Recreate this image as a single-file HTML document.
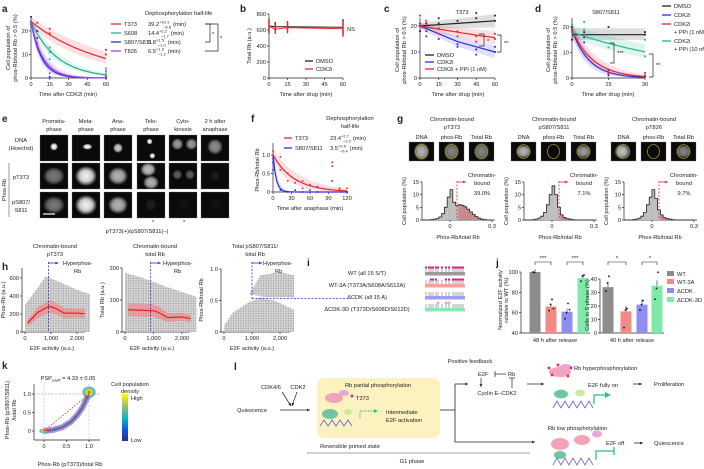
<!DOCTYPE html>
<html><head><meta charset="utf-8">
<style>
html,body{margin:0;padding:0;background:#fff;}
svg{display:block;font-family:"Liberation Sans",Arial,sans-serif;}
</style></head>
<body>
<svg id="fig" width="704" height="469" viewBox="0 0 704 469" xmlns="http://www.w3.org/2000/svg">
<defs>
<radialGradient id="blob"><stop offset="0" stop-color="#fff"/><stop offset="0.55" stop-color="#d8d8d8"/><stop offset="1" stop-color="#fff" stop-opacity="0"/></radialGradient>
<radialGradient id="hot"><stop offset="0" stop-color="#d81b1b"/><stop offset="0.35" stop-color="#f7e21a"/><stop offset="0.7" stop-color="#3ec6b0"/><stop offset="1" stop-color="#3040d0" stop-opacity="0.2"/></radialGradient>
<pattern id="dots" width="2.5" height="2.5" patternUnits="userSpaceOnUse"><rect width="2.5" height="2.5" fill="#d2d2d2"/><circle cx="1" cy="1" r="0.7" fill="#959595"/></pattern>
<linearGradient id="parula" x1="0" y1="1" x2="0" y2="0"><stop offset="0" stop-color="#352a87"/><stop offset="0.25" stop-color="#0f5cdd"/><stop offset="0.5" stop-color="#12b9b6"/><stop offset="0.75" stop-color="#a5be6a"/><stop offset="1" stop-color="#f9fb0e"/></linearGradient>
</defs>
</svg>
<script>
const NS='http://www.w3.org/2000/svg';
const svg=document.getElementById('fig');

// ---------- data ----------
const aTimes=[0,5,15,60];
const aNames=['T373','S608','S807/S811','T826'];
const aHalf=[39.2,14.4,5.8,6.5];
const aHalfUp=[10.1,2.2,1.5,1.9];
const aHalfDn=[6.6,1.7,1.0,1.2];
const aStart=[24,24,24,24];
const aPtsT373=[[0,24],[0,26],[5,23.5],[15,21],[15,19],[60,12],[60,10]];
const aPtsS608=[[0,22],[5,20],[15,13],[15,11],[15,8],[60,3],[60,2]];
const aPtsS807=[[0,26],[5,20],[5,17],[15,0.5],[15,0],[60,0.3],[60,0]];
const aPtsT826=[[0,23],[5,15],[5,14],[15,2],[15,0],[60,4],[60,1]];
const bTimes=[0,5,15,60];
const bDMSO=[650,640,640,635];
const bCDK2i=[650,610,630,615];
const bErr=[90,60,70,100];
const cTimes=[0,5,15,30,45,60];
const cFitDMSO=[20,20.2,20.5,21,21.5,22];
const cFitCDK=[20,19,17,14,12,10];
const cFitPPi=[20,19.6,18.8,17.6,16.5,15.5];
const cPtsDMSO=[[0,21],[0,18],[5,21],[15,23],[15,21],[30,22],[45,25],[45,23],[60,24],[60,22]];
const cPtsCDK=[[0,20],[5,18],[5,16],[15,19],[15,15],[30,13],[30,12],[45,11],[45,9],[60,12],[60,10]];
const cPtsPPi=[[0,24],[0,21],[5,22],[15,19],[15,17],[30,18],[30,16],[45,16],[45,14],[60,17],[60,15]];
const dStart=[17,19,19,18];
const dHalf=[1e9,4.9,6,37];
const dPtsDMSO=[[0,15],[0,19],[5,18],[5,16],[15,20],[15,17],[30,18],[30,17]];
const dPtsCDK=[[0,20],[5,16],[5,14],[15,3],[15,1],[30,1],[30,0.5]];
const dPtsPPi1=[[0,18],[5,17],[15,2],[15,1.5],[30,2],[30,1]];
const dPtsPPi10=[[0,21],[5,22],[5,19],[15,17],[15,12],[30,15],[30,8.5]];
const fStart=[1.0,1.0];
const fHalf=[23.4,3.5];
const fPtsT373=[[0,1.1],[0,0.9],[12,0.95],[12,0.6],[24,0.5],[24,0.3],[36,0.25],[48,0.3],[48,0.1],[60,0.2],[72,0.15],[96,0.8],[96,0.7],[108,0.1],[120,0.1],[120,0]];
const fPtsS807=[[0,0.8],[0,0.6],[12,0.05],[24,0],[36,0.05],[48,0],[60,0.05],[72,0],[96,0.3],[108,0.05],[120,0]];
const gBins=[-0.2,-0.18,-0.16,-0.14,-0.12,-0.1,-0.08,-0.06,-0.04,-0.02,0,0.02,0.04,0.06,0.08,0.1,0.12,0.14,0.16,0.18,0.2,0.22,0.24,0.26,0.28];
const gHistT373=[0,0,0,0.1,0.3,0.6,1.2,2.5,5,9,12,7,5.8,6,5.8,5.2,4.3,3.2,2.2,1.3,0.7,0.3,0.1,0,0];
const gHistS807=[0,0,0,0.1,0.3,0.8,1.5,3,6,10,13.5,10,5,2,1,0.5,0.3,0.1,0,0,0,0,0,0,0];
const gHistT826=[0,0,0,0.1,0.3,0.7,1.5,3,6,9,12,8.5,4,2,1,0.6,0.3,0.1,0,0,0,0,0,0,0];
const gPercent=['39.0%','7.1%','9.7%'];
const hE2F=[100,500,900,1000,1200,1500,2000,2300];
const hPhos=[100,220,280,280,260,210,210,205];
const hPhosSd=[40,60,70,70,65,55,50,50];
const hTotal=[70,68,67,67,60,45,47,42];
const hTotalSd=[20,20,20,20,18,14,12,12];
const jCats=['WT','WT-3A','ΔCDK','ΔCDK-3D'];
const jE2F=[100,66,61,94];
const jE2FPts=[[100,99.5],[62,68,73,64],[54,60,69,63],[91,96,97]];
const jSphase=[34,16,21,35];
const jSPts=[[31,37,42],[4,17,18],[17,21,24],[25,33,45]];
const kX=[0,0.2,0.4,0.6,0.75,0.85,0.95,1.0];
const kY=[0,0.03,0.1,0.25,0.45,0.63,0.88,1.0];

const RED='#e8262d',TEAL='#20b58e',BLUE='#2d2de0',PURP='#a040f0',GREEN='#28c47a',BLK='#222';
const JCOL=['#8c8c8c','#f28b86','#8e8ef2','#80e8a9'];
const FS=5.7;

// ---------- helpers ----------
function el(tag,a,name){
  const e=document.createElementNS(NS,tag);
  for(const k in a) e.setAttribute(k,a[k]);
  
  
  svg.appendChild(e); return e;
}
function tx(x,y,s,name,o){o=o||{};
  const a={x:x,y:y,'font-size':o.fs||FS,'text-anchor':o.a||'start',fill:o.c||'#222'};
  if(o.b) a['font-weight']='bold';
  if(o.rot) a.transform='rotate(-90 '+x+' '+y+')';
  const e=el('text',a,name); e.textContent=s; return e;}
function ln(x1,y1,x2,y2,name,c,w,dash){const a={x1,y1,x2,y2,stroke:c||BLK,'stroke-width':w||0.7};if(dash)a['stroke-dasharray']=dash;return el('line',a,name);}
function pl(pts,name,c,w,dash){const a={points:pts.map(p=>p[0].toFixed(1)+','+p[1].toFixed(1)).join(' '),fill:'none',stroke:c,'stroke-width':w||1};if(dash)a['stroke-dasharray']=dash;return el('polyline',a,name);}
function pg(pts,name,f,op){return el('polygon',{points:pts.map(p=>p[0].toFixed(1)+','+p[1].toFixed(1)).join(' '),fill:f,'fill-opacity':op===undefined?1:op},name);}
function dot(x,y,name,c,r){return el('rect',{x:x-(r||1),y:y-(r||1),width:2*(r||1),height:2*(r||1),fill:c},name);}
function arrow(x1,y1,x2,y2,name,c,w){ln(x1,y1,x2,y2,name,c,w||0.8);const ang=Math.atan2(y2-y1,x2-x1),s=3.2;
  pg([[x2,y2],[x2-s*Math.cos(ang-0.45),y2-s*Math.sin(ang-0.45)],[x2-s*Math.cos(ang+0.45),y2-s*Math.sin(ang+0.45)]],name+'-head',c);}
function axes(o){
  const sx=v=>o.x0+(v-o.xd[0])/(o.xd[1]-o.xd[0])*(o.x1-o.x0);
  const sy=v=>o.y0-(v-o.yd[0])/(o.yd[1]-o.yd[0])*(o.y0-o.y1);
  const left=o.left!==undefined?o.left:o.x0, bot=o.bot!==undefined?o.bot:o.y0;
  const top=o.top!==undefined?o.top:o.y1, right=o.right!==undefined?o.right:o.x1;
  ln(left,bot,left,top,o.n+'-y-axis');
  ln(left,bot,right,bot,o.n+'-x-axis');
  o.xt.forEach((v,i)=>{const x=sx(v);ln(x,bot,x,bot+2,o.n+'-x-tick');tx(x,bot+8,o.xl?o.xl[i]:String(v),o.n+'-x-tick-label',{a:'middle'});});
  o.yt.forEach((v,i)=>{const y=sy(v);ln(left,y,left-2,y,o.n+'-y-tick');tx(left-3,y+2,o.yl?o.yl[i]:String(v),o.n+'-y-tick-label',{a:'end'});});
  return {sx,sy};
}
function expCurve(A,h,t0,t1,sx,sy){const p=[];for(let i=0;i<=40;i++){const t=t0+(t1-t0)*i/40;p.push([sx(t),sy(A*Math.pow(2,-t/h))]);}return p;}
function label(x,y,s){tx(x,y,s,'panel-label-'+s,{fs:10,b:true});}
function halfText(x,y,v,up,dn,name){
  const e=el('text',{x:x,y:y,'font-size':FS,fill:'#222'},name);
  const t1=document.createElementNS(NS,'tspan');t1.textContent=v;e.appendChild(t1);
  const t2=document.createElementNS(NS,'tspan');t2.setAttribute('dy','-2.3');t2.setAttribute('font-size','4');t2.textContent=up;e.appendChild(t2);
  const t3=document.createElementNS(NS,'tspan');t3.setAttribute('dy','4.6');t3.setAttribute('dx','-6');t3.setAttribute('font-size','4');t3.textContent=dn;e.appendChild(t3);
  const t4=document.createElementNS(NS,'tspan');t4.setAttribute('dy','-2.3');t4.setAttribute('dx','2');t4.textContent='(min)';e.appendChild(t4);
}

// ---------- panel a ----------
label(2,12,'a');
{const A=axes({n:'a',x0:31,x1:106,y0:78,y1:31,xd:[0,60],yd:[0,20],xt:[0,15,30,45,60],yt:[0,10,20],top:18});
 const cols=[RED,TEAL,BLUE,PURP];
 const pts=[aPtsT373,aPtsS608,aPtsS807,aPtsT826];
 aHalf.forEach((h,i)=>{const up=expCurve(aStart[i]*1.08,h+aHalfUp[i],0,60,A.sx,A.sy),dn=expCurve(aStart[i]*0.92,h-aHalfDn[i],0,60,A.sx,A.sy).reverse();
   pg(up.concat(dn),'a-band-'+aNames[i],cols[i],0.15);});
 aHalf.forEach((h,i)=>{pl(expCurve(aStart[i],h,0,60,A.sx,A.sy),'a-fit-'+aNames[i],cols[i],1.2);
   pts[i].forEach(p=>dot(A.sx(p[0]),A.sy(p[1]),'a-point-'+aNames[i],cols[i],0.9));});
 tx(10,48,'Cell population of','a-y-axis-title-1',{rot:1,a:'middle'});
 tx(17,48,'phos-Rb/total Rb > 0.5 (%)','a-y-axis-title-2',{rot:1,a:'middle'});
 tx(68,96,'Time after CDK2i (min)','a-x-axis-title',{a:'middle'});
 tx(145,15,'Dephosphorylation half-life','a-legend-title');
 const ly=[26,35,44,53];
 aNames.forEach((nm,i)=>{ln(111,ly[i]-2,121,ly[i]-2,'a-legend-line-'+nm,cols[i],1.3);tx(124,ly[i],nm,'a-legend-label-'+nm);
   halfText(148,ly[i],aHalf[i].toFixed(1),'+'+aHalfUp[i].toFixed(1),'−'+aHalfDn[i].toFixed(1),'a-half-life-'+nm);});
 pl([[205,24],[210,24],[210,42],[205,42]],'a-sig-bracket-inner',BLK,0.7);tx(212,36,'*','a-sig-star-inner');
 pl([[205,24],[218,24],[218,51],[205,51]],'a-sig-bracket-outer',BLK,0.7);tx(220,40,'*','a-sig-star-outer');
}
// ---------- panel b ----------
label(240,12,'b');
{const A=axes({n:'b',x0:269,x1:343,y0:78,y1:14,xd:[0,60],yd:[0,800],xt:[0,15,30,45,60],yt:[0,200,400,600,800]});
 [[bDMSO,BLK,'dmso'],[bCDK2i,RED,'cdk2i']].forEach(s=>{
   pl(bTimes.map((t,i)=>[A.sx(t),A.sy(s[0][i])]),'b-line-'+s[2],s[1],1);
   bTimes.forEach((t,i)=>ln(A.sx(t),A.sy(s[0][i]-bErr[i]),A.sx(t),A.sy(s[0][i]+bErr[i]),'b-error-bar-'+s[2],s[1],1.3));});
 tx(251,46,'Total Rb (a.u.)','b-y-axis-title',{rot:1,a:'middle'});
 tx(306,96,'Time after drug (min)','b-x-axis-title',{a:'middle'});
 ln(305,61,313,61,'b-legend-line-dmso',BLK,1.3);tx(316,63,'DMSO','b-legend-label-dmso');
 ln(305,69,313,69,'b-legend-line-cdk2i',RED,1.3);tx(316,71,'CDK2i','b-legend-label-cdk2i');
 tx(347,31,'NS','b-ns-label');
}
// ---------- panel c ----------
label(384,12,'c');
{const A=axes({n:'c',x0:420,x1:495,y0:78,y1:26,xd:[0,60],yd:[0,20],xt:[0,15,30,45,60],yt:[0,10,20],top:18});
 const S=[[cFitDMSO,BLK,cPtsDMSO,'dmso'],[cFitCDK,BLUE,cPtsCDK,'cdk2i'],[cFitPPi,RED,cPtsPPi,'ppi']];
 S.forEach(s=>{
   const up=cTimes.map((t,i)=>[A.sx(t),A.sy(s[0][i]+1+i*0.3)]),dn=cTimes.map((t,i)=>[A.sx(t),A.sy(s[0][i]-1-i*0.3)]).reverse();
   pg(up.concat(dn),'c-band-'+s[3],s[1],0.15);});
 S.forEach(s=>{
   pl(cTimes.map((t,i)=>[A.sx(t),A.sy(s[0][i])]),'c-fit-'+s[3],s[1],1.2);
   s[2].forEach(p=>dot(A.sx(p[0]),A.sy(p[1]),'c-point-'+s[3],s[1],0.9));});
 tx(462,14,'T373','c-title',{a:'middle'});
 tx(399,50,'Cell population of','c-y-axis-title-1',{rot:1,a:'middle'});
 tx(406,50,'phos-Rb/total Rb > 0.5 (%)','c-y-axis-title-2',{rot:1,a:'middle'});
 tx(458,96,'Time after drug (min)','c-x-axis-title',{a:'middle'});
 [['DMSO',BLK,57],['CDK2i',BLUE,64],['CDK2i + PPi (1 nM)',RED,71]].forEach(l=>{ln(425,l[2]-2,434,l[2]-2,'c-legend-line',l[1],1.3);tx(437,l[2],l[0],'c-legend-label');});
 pl([[479,34],[484,34],[484,46],[479,46]],'c-sig-bracket-1',BLK,0.7);tx(487,43,'*','c-sig-star-1');
 pl([[497,35],[501,35],[501,52],[497,52]],'c-sig-bracket-2',BLK,0.7);tx(504,45,'**','c-sig-star-2');
}
// ---------- panel d ----------
label(535,12,'d');
{const A=axes({n:'d',x0:572,x1:645,y0:78,y1:27,xd:[0,30],yd:[0,20],xt:[0,15,30],yt:[0,10,20],top:18});
 const cols=[BLK,BLUE,RED,TEAL],nm=['dmso','cdk2i','ppi-1nm','ppi-10nm'],pts=[dPtsDMSO,dPtsCDK,dPtsPPi1,dPtsPPi10];
 dStart.forEach((a,i)=>{const up=expCurve(a*1.12+0.5,dHalf[i]*1.25,0,30,A.sx,A.sy),dn=expCurve(a*0.88,dHalf[i]*0.8,0,30,A.sx,A.sy).reverse();pg(up.concat(dn),'d-band-'+nm[i],cols[i],0.15);});
 dStart.forEach((a,i)=>{pl(expCurve(a,dHalf[i],0,30,A.sx,A.sy),'d-fit-'+nm[i],cols[i],1.2);pts[i].forEach(p=>dot(A.sx(p[0]),A.sy(p[1]),'d-point-'+nm[i],cols[i],0.9));});
 tx(606,14,'S807/S811','d-title',{a:'middle'});
 tx(550,50,'Cell population of','d-y-axis-title-1',{rot:1,a:'middle'});
 tx(557,50,'phos-Rb/total Rb > 0.5 (%)','d-y-axis-title-2',{rot:1,a:'middle'});
 tx(608,96,'Time after drug (min)','d-x-axis-title',{a:'middle'});
 [['DMSO',BLK,8],['CDK2i',BLUE,17],['CDK2i',RED,26],['CDK2i',TEAL,43]].forEach(l=>{ln(662,l[2]-2,671,l[2]-2,'d-legend-line',l[1],1.3);tx(674,l[2],l[0],'d-legend-label');});
 tx(674,34,'+ PPi (1 nM)','d-legend-label');tx(674,51,'+ PPi (10 nM)','d-legend-label');
 pl([[610,43],[614,43],[614,63],[610,63]],'d-sig-bracket-1',BLK,0.7);tx(617,55,'***','d-sig-star-1');
 pl([[649,54],[653,54],[653,77],[649,77]],'d-sig-bracket-2',BLK,0.7);tx(656,67,'**','d-sig-star-2');
}
// ---------- panel e (microscopy) ----------
label(2,122,'e');
function cell(x,y,w,h,blobs,name){el('rect',{x:x,y:y,width:w,height:h,fill:'#0a0a0a',stroke:'#777','stroke-width':0.3},name);
  blobs.forEach(b=>el('ellipse',{cx:x+b[0]*w,cy:y+b[1]*h,rx:b[2],ry:b[3],fill:'url(#blob)','fill-opacity':b[4]},name+'-signal'));}
{const ex=[40,72,104,137,169,201],ey=[135,163,192],w=28,h=26;
 const heads=[['Prometa-','phase'],['Meta-','phase'],['Ana-','phase'],['Telo-','phase'],['Cyto-','kinesis'],['2 h after','anaphase']];
 heads.forEach((hh,i)=>{tx(ex[i]+14,123,hh[0],'e-column-header',{a:'middle'});tx(ex[i]+14,131,hh[1],'e-column-header',{a:'middle'});});
 const data=[
  [[[.5,.45,4,4,1]],[[.55,.45,5,3,1]],[[.5,.5,5,5,.8]],[[.45,.25,3,3,1],[.55,.8,3,3,1]],[[.3,.35,6,6,.6],[.8,.35,6,6,.6]],[[.5,.45,8,8,.55]]],
  [[[.5,.5,11,9,.45]],[[.5,.5,11,10,.95]],[[.5,.5,10,9,.7]],[[.4,.25,8,7,.75],[.5,.75,8,7,.7]],[[.3,.45,5,5,.35],[.75,.45,5,5,.35]],[[.5,.5,5,5,.08]]],
  [[[.5,.5,11,9,.45]],[[.5,.5,11,10,.95]],[[.5,.5,10,9,.7]],[[.5,.5,6,6,.08]],[[.5,.5,6,6,.04]],[[.5,.5,6,6,.04]]]];
 data.forEach((row,r)=>row.forEach((b,c)=>cell(ex[c],ey[r],w,h,b,'e-image-r'+r+'-c'+c)));
 tx(21,142,'DNA','e-row-label-dna',{a:'middle'});tx(21,150,'(Hoechst)','e-row-label-dna',{a:'middle'});
 tx(21,179,'pT373','e-row-label-pt373',{a:'middle'});
 tx(21,204,'pS807/','e-row-label-ps807',{a:'middle'});tx(21,212,'S811','e-row-label-ps807',{a:'middle'});
 ln(9,163,9,217,'e-phos-rb-bracket','#999',1);tx(6,190,'Phos-Rb','e-phos-rb-label',{rot:1,a:'middle'});
 ln(43,214,55,214,'e-scale-bar','#fff',1.2);
 tx(152,224,'*','e-asterisk');tx(183,224,'*','e-asterisk');
 tx(137,233,'pT373(+)/pS807/S811(–)','e-caption',{a:'middle'});
}
// ---------- panel f ----------
label(251,122,'f');
{const A=axes({n:'f',x0:273,x1:347,y0:192,y1:155,xd:[0,120],yd:[0,1],xt:[0,30,60,90,120],yt:[0,0.5,1.0],yl:['0','0.5','1.0'],top:143});
 const cols=[RED,BLUE],nm=['t373','s807'];
 fHalf.forEach((h,i)=>{const up=expCurve(fStart[i]*1.15,h*1.4,0,120,A.sx,A.sy),dn=expCurve(fStart[i]*0.85,h*0.75,0,120,A.sx,A.sy).reverse();pg(up.concat(dn),'f-band-'+nm[i],cols[i],0.15);});
 [fPtsT373,fPtsS807].forEach((pp,i)=>pp.forEach(p=>{dot(A.sx(p[0]),A.sy(p[1]),'f-point-'+nm[i],cols[i],0.8);}));
 fHalf.forEach((h,i)=>pl(expCurve(fStart[i],h,0,120,A.sx,A.sy),'f-fit-'+nm[i],cols[i],1.2));
 tx(259,170,'Phos-Rb/total Rb','f-y-axis-title',{rot:1,a:'middle'});
 tx(310,210,'Time after anaphase (min)','f-x-axis-title',{a:'middle'});
 tx(350,120,'Dephosphorylation','f-legend-title',{a:'middle'});tx(350,128,'half-life','f-legend-title',{a:'middle'});
 ln(284,138,292,138,'f-legend-line-t373',RED,1.3);tx(295,140,'T373','f-legend-label-t373');halfText(330,140,'23.4','+2.7','−2.2','f-half-life-t373');
 ln(284,148,292,148,'f-legend-line-s807',BLUE,1.3);tx(295,150,'S807/S811','f-legend-label-s807');halfText(330,150,'3.5','+0.5','−0.4','f-half-life-s807');
}
// ---------- panel g ----------
label(397,122,'g');
{const titles=['pT373','pS807/S811','pT826'],hists=[gHistT373,gHistS807,gHistT826],sh=[0,102,202];
 const imgs=[[[.5,.5,8,9,.7],[.5,.5,8,9,.5],[.5,.5,8,9,.5]],[[.5,.5,8,7,.7],[.5,.5,1,1,0],[.5,.5,8,7,.6]],[[.45,.5,8,8,.75],[.5,.5,1,1,0],[.5,.5,8,7,.5]]];
 sh.forEach((s,g)=>{
  tx(452+s,121,'Chromatin-bound','g-title',{a:'middle'});tx(452+s,129,titles[g],'g-title',{a:'middle'});
  ['DNA','phos-Rb','Total Rb'].forEach((t,k)=>{const x=409+s+k*30;tx(x+12.5,139,t,'g-image-label',{a:'middle'});
    cell(x,142,25,19,[imgs[g][k]],'g-image-'+g+'-'+k);
    el('ellipse',{cx:x+12.5,cy:151.5,rx:6,ry:7,fill:'none',stroke:'#d8c21a','stroke-width':0.6},'g-nucleus-outline');});
  const A=axes({n:'g'+g,x0:422+s,x1:492+s,y0:220,y1:182,xd:[-0.2,0.3],yd:[0,15],xt:[0,0.3],yt:[0,5,10,15],right:495+s});
  const th=0.05;
  gBins.forEach((b,i)=>{const x0=A.sx(b),x1=A.sx(b+0.02),y=A.sy(hists[g][i]);
    el('rect',{x:x0,y:y,width:x1-x0,height:220-y,fill:b>=th-0.001?'#c98585':'#bdbdbd'},'g-hist-bar');});
  const step=[];gBins.forEach((b,i)=>{step.push([A.sx(b),A.sy(hists[g][i])]);step.push([A.sx(b+0.02),A.sy(hists[g][i])]);});
  pl(step,'g-hist-outline',BLK,0.8);
  ln(A.sx(th),181,A.sx(th),220,'g-threshold-line',RED,0.8,'2,1.5');
  arrow(A.sx(th),182,A.sx(th)+9,182,'g-threshold-arrow',RED,0.8);
  tx(482+s,177,'Chromatin-','g-annotation',{a:'middle'});tx(482+s,185,'bound','g-annotation',{a:'middle'});tx(482+s,195,gPercent[g],'g-percent',{a:'middle'});
  tx(406+s,201,'Cell population (%)','g-y-axis-title',{rot:1,a:'middle'});
  tx(458+s,239,'Phos-Rb/total Rb','g-x-axis-title',{a:'middle'});
 });
}
// ---------- panel h ----------
label(2,270,'h');
{
 const H1=axes({n:'h1',x0:25,x1:77,y0:332,y1:278,xd:[0,2000],yd:[0,600],xt:[0,1000,2000],xl:['0','1,000','2,000'],yt:[0,200,400,600],top:268,right:85,left:22});
 pg([[0,0],[0,300],[300,420],[800,620],[1300,560],[2000,470],[2500,420],[2500,0]].map(p=>[H1.sx(p[0]),H1.sy(p[1])]),'h1-scatter-cloud','url(#dots)',0.9);
 pg(hE2F.map((x,i)=>[H1.sx(x),H1.sy(hPhos[i]+hPhosSd[i])]).concat(hE2F.map((x,i)=>[H1.sx(x),H1.sy(hPhos[i]-hPhosSd[i])]).reverse()),'h1-band','#f08080',0.6);
 pl(hE2F.map((x,i)=>[H1.sx(x),H1.sy(hPhos[i])]),'h1-trend-line',RED,1.3);
 ln(H1.sx(900),262,H1.sx(900),332,'h1-threshold-line',BLUE,0.8,'2,1.5');arrow(H1.sx(900),263,H1.sx(900)+10,263,'h1-arrow',BLUE,0.8);
 tx(63,265,'Hyperphos-','h1-annotation');tx(74,273,'Rb','h1-annotation');
 tx(55,248,'Chromatin-bound','h1-title',{a:'middle'});tx(55,256,'pT373','h1-title',{a:'middle'});
 tx(5,300,'Phos-Rb (a.u.)','h1-y-axis-title',{rot:1,a:'middle'});tx(52,350,'E2F activity (a.u.)','h1-x-axis-title',{a:'middle'});

 const H2=axes({n:'h2',x0:125,x1:182,y0:332,y1:268,xd:[0,2000],yd:[0,200],xt:[0,1000,2000],xl:['0','1,000','2,000'],yt:[0,100,200],right:190,left:122});
 pg([[0,0],[0,185],[600,170],[1500,140],[2500,110],[2500,0]].map(p=>[H2.sx(p[0]),H2.sy(p[1])]),'h2-scatter-cloud','url(#dots)',0.9);
 pg(hE2F.map((x,i)=>[H2.sx(x),H2.sy(hTotal[i]+hTotalSd[i])]).concat(hE2F.map((x,i)=>[H2.sx(x),H2.sy(hTotal[i]-hTotalSd[i])]).reverse()),'h2-band','#f08080',0.6);
 pl(hE2F.map((x,i)=>[H2.sx(x),H2.sy(hTotal[i])]),'h2-trend-line',RED,1.3);
 ln(H2.sx(900),262,H2.sx(900),332,'h2-threshold-line',BLUE,0.8,'2,1.5');arrow(H2.sx(900),263,H2.sx(900)+10,263,'h2-arrow',BLUE,0.8);
 tx(163,265,'Hyperphos-','h2-annotation');tx(174,273,'Rb','h2-annotation');
 tx(155,248,'Chromatin-bound','h2-title',{a:'middle'});tx(155,256,'total Rb','h2-title',{a:'middle'});
 tx(104,300,'Total Rb (a.u.)','h2-y-axis-title',{rot:1,a:'middle'});tx(152,350,'E2F activity (a.u.)','h2-x-axis-title',{a:'middle'});

 const H3=axes({n:'h3',x0:224,x1:280,y0:332,y1:269,xd:[0,2000],yd:[0,1],xt:[0,1000,2000],xl:['0','1,000','2,000'],yt:[0,0.5,1.0],yl:['0','0.5','1.0'],right:290,left:221});
 pg([[0,0],[0,0.1],[300,0.3],[800,0.45],[1300,0.55],[1800,0.5],[2500,0.35],[2500,0],[1000,0]].map(p=>[H3.sx(p[0]),H3.sy(p[1])]),'h3-scatter-cloud-low','url(#dots)',0.9);
 pg([[900,0.6],[1300,0.9],[2000,0.95],[2500,0.9],[2500,0.55],[1500,0.55]].map(p=>[H3.sx(p[0]),H3.sy(p[1])]),'h3-scatter-cloud-high','url(#dots)',0.9);
 ln(H3.sx(1000),262,H3.sx(1000),H3.sy(0.53),'h3-threshold-vertical',BLUE,0.8,'2,1.5');ln(H3.sx(1000),H3.sy(0.53),350,H3.sy(0.53),'h3-threshold-horizontal',BLUE,0.8,'2,1.5');
 arrow(H3.sx(1000),263,H3.sx(1000)+10,263,'h3-arrow',BLUE,0.8);
 tx(263,265,'Hyperphos-','h3-annotation');tx(275,273,'Rb','h3-annotation');
 tx(255,248,'Total pS807/S811/','h3-title',{a:'middle'});tx(255,256,'total Rb','h3-title',{a:'middle'});
 tx(203,300,'Phos-Rb/total Rb','h3-y-axis-title',{rot:1,a:'middle'});tx(252,350,'E2F activity (a.u.)','h3-x-axis-title',{a:'middle'});
}
// ---------- panel i ----------
label(307,266,'i');
{const rows=[['WT (all 15 S/T)','#9a9a9a',274],['WT-3A (T373A/S608A/S612A)','#f6a09c',286],['ΔCDK (all 15 A)','#9d9df5',298],['ΔCDK-3D (T373D/S608D/S612D)','#8be8b0',310]];
 const tk=[0,3,5,7,10,12,16,20,23,27,29,31,33,35,37];
 rows.forEach((r,k)=>{tx(367,r[2]+1,r[0],'i-construct-label',{a:'middle'});
   el('rect',{x:425,y:r[2]-2,width:40,height:3.5,fill:r[1]},'i-construct-bar');
   tk.forEach((t,j)=>{const x=426+t;ln(x,r[2]-2,x,r[2]-6,'i-site-tick','#555',0.5);
     if(k===0||(k===1&&j>1&&j!==5&&j!==6)) dot(x,r[2]-6.5,'i-phospho-site','#e0208a',1);
     if(k===3&&(j===5||j===7||j===8)) el('circle',{cx:x,cy:r[2]-7,r:1.1,fill:'none',stroke:'#e0208a','stroke-width':0.5},'i-phosphomimetic-site');});
 });
}
// ---------- panel j ----------
label(496,266,'j');
{const J1=axes({n:'j1',x0:520,x1:590,y0:333,y1:272,xd:[0,4],yd:[40,100],xt:[],yt:[40,60,80,100],left:521,right:590});
 const cx=[535,551,567,583];
 jE2F.forEach((v,i)=>{el('rect',{x:cx[i]-5.5,y:J1.sy(v),width:11,height:333-J1.sy(v),fill:JCOL[i]},'j1-bar-'+jCats[i]);
   ln(cx[i],J1.sy(v),cx[i],J1.sy(v+3),'j1-error-bar',BLK,0.6);
   jE2FPts[i].forEach((p,k)=>el('circle',{cx:cx[i]-2+k*1.5,cy:J1.sy(p),r:0.9,fill:'#111'},'j1-point'));});
 pl([[535,265],[535,262],[551,262],[551,265]],'j1-sig-bracket',BLK,0.6);tx(543,260,'***','j1-sig-star',{a:'middle'});
 pl([[567,265],[567,262],[583,262],[583,265]],'j1-sig-bracket',BLK,0.6);tx(575,260,'***','j1-sig-star',{a:'middle'});
 tx(502,300,'Normalized E2F activity','j1-y-axis-title',{rot:1,a:'middle'});tx(508,300,'relative to WT (%)','j1-y-axis-title',{rot:1,a:'middle'});
 tx(555,342,'48 h after release','j1-x-axis-title',{a:'middle'});
 const J2=axes({n:'j2',x0:600,x1:665,y0:333,y1:279,xd:[0,4],yd:[0,40],xt:[],yt:[0,10,20,30,40],left:600,right:664});
 const cx2=[608,626,642,657];
 jSphase.forEach((v,i)=>{el('rect',{x:cx2[i]-5.5,y:J2.sy(v),width:11,height:333-J2.sy(v),fill:JCOL[i]},'j2-bar-'+jCats[i]);
   ln(cx2[i],J2.sy(v),cx2[i],J2.sy(v+4),'j2-error-bar',BLK,0.6);
   jSPts[i].forEach((p,k)=>el('circle',{cx:cx2[i]-2+k*1.5,cy:J2.sy(p),r:0.9,fill:'#111'},'j2-point'));});
 pl([[608,265],[608,262],[626,262],[626,265]],'j2-sig-bracket',BLK,0.6);tx(617,260,'*','j2-sig-star',{a:'middle'});
 pl([[642,265],[642,262],[657,262],[657,265]],'j2-sig-bracket',BLK,0.6);tx(650,260,'*','j2-sig-star',{a:'middle'});
 tx(589,305,'Cells in S phase (%)','j2-y-axis-title',{rot:1,a:'middle'});
 tx(632,342,'40 h after release','j2-x-axis-title',{a:'middle'});
 const ly=[276,284,293,302];
 jCats.forEach((c,i)=>{el('rect',{x:667,y:ly[i]-5,width:7,height:5,fill:JCOL[i]},'j-legend-swatch');tx(677,ly[i],c,'j-legend-label');});
}
// ---------- panel k ----------
label(2,369,'k');
{const K=axes({n:'k',x0:44,x1:89,y0:431,y1:394,xd:[0,1],yd:[0,1],xt:[0,0.5,1.0],xl:['0','0.5','1.0'],yt:[0,0.5,1.0],yl:['0','0.5','1.0'],left:34,bot:440,top:384,right:100});
 [[0,0,1],[1,0,1],[0,1,0],[1,1,0]].forEach(d=>{if(d[2])ln(K.sx(d[0]),384,K.sx(d[0]),440,'k-guide-line','#aaa',0.5,'2,1.5');else ln(34,K.sy(d[1]),100,K.sy(d[1]),'k-guide-line','#aaa',0.5,'2,1.5');});
 pl(kX.map((x,i)=>[K.sx(x),K.sy(kY[i])]),'k-density-outer','#3538c8',6).setAttribute('stroke-opacity','0.5');
 pl(kX.map((x,i)=>[K.sx(x),K.sy(kY[i])]),'k-density-inner','#1b8fe0',2.5).setAttribute('stroke-opacity','0.8');
 el('ellipse',{cx:K.sx(1.0),cy:K.sy(1.05),rx:7,ry:6,fill:'url(#hot)'},'k-density-peak-high');
 el('ellipse',{cx:K.sx(0),cy:K.sy(0),rx:5,ry:2.5,fill:'url(#hot)'},'k-density-peak-low');
 ln(K.sx(0),K.sy(0),K.sx(1),K.sy(1),'k-diagonal',RED,0.8,'1.5,1.5');
 pl(kX.map((x,i)=>[K.sx(x),K.sy(kY[i])]),'k-fit-curve',RED,1);
 const t=el('text',{x:68,y:380,'font-size':FS,'text-anchor':'middle',fill:'#222'},'k-title');
 t.innerHTML='PSP<tspan font-size="4" dy="1.5">coeff</tspan><tspan dy="-1.5"> = 4.33 ± 0.05</tspan>';
 tx(9,410,'Phos-Rb (pS807/S811)','k-y-axis-title',{rot:1,a:'middle'});tx(16,410,'/total Rb','k-y-axis-title',{rot:1,a:'middle'});
 tx(70,466,'Phos-Rb (pT373)/total Rb','k-x-axis-title',{a:'middle'});
 el('rect',{x:122,y:394,width:6,height:47,fill:'url(#parula)'},'k-colorbar');
 tx(130,386,'Cell population','k-colorbar-title',{a:'middle'});tx(130,393,'density','k-colorbar-title',{a:'middle'});
 tx(131,400,'High','k-colorbar-high');tx(131,442,'Low','k-colorbar-low');
}
// ---------- panel l ----------
label(234,370,'l');
{tx(237,412,'Quiescence','l-quiescence-start');
 arrow(280,410,310,410,'l-arrow-quiescence',BLK,0.8);
 tx(271,389,'CDK4/6','l-cdk46',{a:'middle'});tx(298,389,'CDK2','l-cdk2',{a:'middle'});
 arrow(282,392,291,406,'l-arrow-cdk46',BLK,0.7);arrow(297,392,292,406,'l-arrow-cdk2',BLK,0.7);
 el('rect',{x:317,y:378,width:123,height:60,rx:7,fill:'#fbf2c0'},'l-primed-state-box');
 tx(378,387,'Rb partial phosphorylation','l-box-title',{a:'middle'});
 el('ellipse',{cx:334,cy:398,rx:9,ry:5,fill:'#f2a3b6'},'l-rb-protein');el('ellipse',{cx:344,cy:393,rx:5,ry:3,fill:'#e9a6d8'},'l-rb-protein');
 dot(352,396,'l-phospho-t373','#e0208a',1.3);tx(356,400,'T373','l-t373-label');
 el('ellipse',{cx:330,cy:414,rx:8,ry:5,fill:'#6fc7a0'},'l-e2f-protein');el('ellipse',{cx:348,cy:412,rx:4,ry:3,fill:'#cde9a0'},'l-dp-protein');
 pl([[320,426],[324,420],[328,426],[332,420],[336,426],[340,420],[344,426],[348,420],[352,426]],'l-dna','#6b5bd0',0.8);
 pl([[360,418],[360,411],[375,411]],'l-dotted-arrow',GREEN,1,'1.5,1');pg([[378,411],[374,409],[374,413]],'l-dotted-arrow-head',GREEN);
 tx(386,414,'Intermediate','l-intermediate');tx(386,422,'E2F activation','l-intermediate');
 tx(350,448,'Reversible primed state','l-primed-label',{a:'middle'});
 ln(307,453,530,453,'l-g1-line','#888',0.8);tx(412,463,'G1 phase','l-g1-label',{a:'middle'});
 ln(440,410,455,410,'l-branch',BLK,0.8);ln(455,384,455,442,'l-branch-vertical',BLK,0.8);
 arrow(455,384,468,384,'l-arrow-up-branch',BLK,0.8);arrow(455,442,535,442,'l-arrow-down-branch',BLK,0.8);
 tx(470,363,'Positive feedback','l-positive-feedback',{a:'middle'});
 tx(478,376,'E2F','l-e2f-label');ln(495,374,506,374,'l-inhibit',BLK,0.7);ln(495,371,495,377,'l-inhibit-bar',BLK,0.7);tx(508,376,'Rb','l-rb-label');
 arrow(481,378,481,387,'l-arrow-e2f-cyclin',BLK,0.7);ln(512,378,512,388,'l-inhibit-rb',BLK,0.7);ln(509,378,515,378,'l-inhibit-rb-bar',BLK,0.7);
 tx(497,395,'Cyclin E–CDK2','l-cyclin-label',{a:'middle'});
 arrow(527,384,544,384,'l-arrow-hyper',BLK,0.8);
 el('ellipse',{cx:560,cy:372,rx:11,ry:5,fill:'#f2a3b6'},'l-rb-hyper');el('ellipse',{cx:566,cy:367,rx:6,ry:3,fill:'#e9a6d8'},'l-rb-hyper');
 [[549,368],[552,375],[568,376],[571,368],[558,365]].forEach(p=>dot(p[0],p[1],'l-phospho-dot','#e0208a',1.3));
 tx(574,370,'Rb hyperphosphorylation','l-hyper-label');
 el('ellipse',{cx:561,cy:394,rx:7,ry:4.5,fill:'#6fc7a0'},'l-e2f-on');el('ellipse',{cx:580,cy:393,rx:5,ry:3.5,fill:'#cde9a0'},'l-dp-on');
 pl([[553,408],[557,401],[561,408],[565,401],[569,408],[573,401],[577,408],[581,401],[585,408],[589,401],[593,408]],'l-dna-on','#6b5bd0',0.8);
 pl([[594,404],[594,395],[606,395]],'l-e2f-on-arrow',GREEN,1.3);pg([[611,395],[605,392],[605,398]],'l-e2f-on-arrow-head',GREEN);
 tx(588,387,'E2F fully on','l-e2f-on-label');arrow(633,384,642,384,'l-arrow-proliferation',BLK,0.8);tx(654,386,'Proliferation','l-proliferation');
 tx(548,430,'Rb low phosphorylation','l-low-label');
 el('ellipse',{cx:560,cy:444,rx:9,ry:6,fill:'#f2a3b6'},'l-rb-low');el('ellipse',{cx:582,cy:440,rx:8,ry:5,fill:'#f2a3b6'},'l-rb-low-2');el('ellipse',{cx:597,cy:434,rx:5,ry:3.5,fill:'#e9a6d8'},'l-rb-low-3');
 el('ellipse',{cx:560,cy:455,rx:6,ry:4,fill:'#6fc7a0'},'l-e2f-off');
 pl([[553,465],[557,458],[561,465],[565,458],[569,465],[573,458],[577,465],[581,458],[585,465],[589,458],[593,465]],'l-dna-off','#6b5bd0',0.8);
 pl([[596,460],[596,451],[614,451]],'l-e2f-off-inhibit',GREEN,1.3);ln(614,447,614,455,'l-e2f-off-bar',GREEN,1.3);
 tx(606,445,'E2F off','l-e2f-off-label');arrow(634,443,643,443,'l-arrow-quiescence-end',BLK,0.8);tx(654,445,'Quiescence','l-quiescence-end');
}
</script>
</body></html>
